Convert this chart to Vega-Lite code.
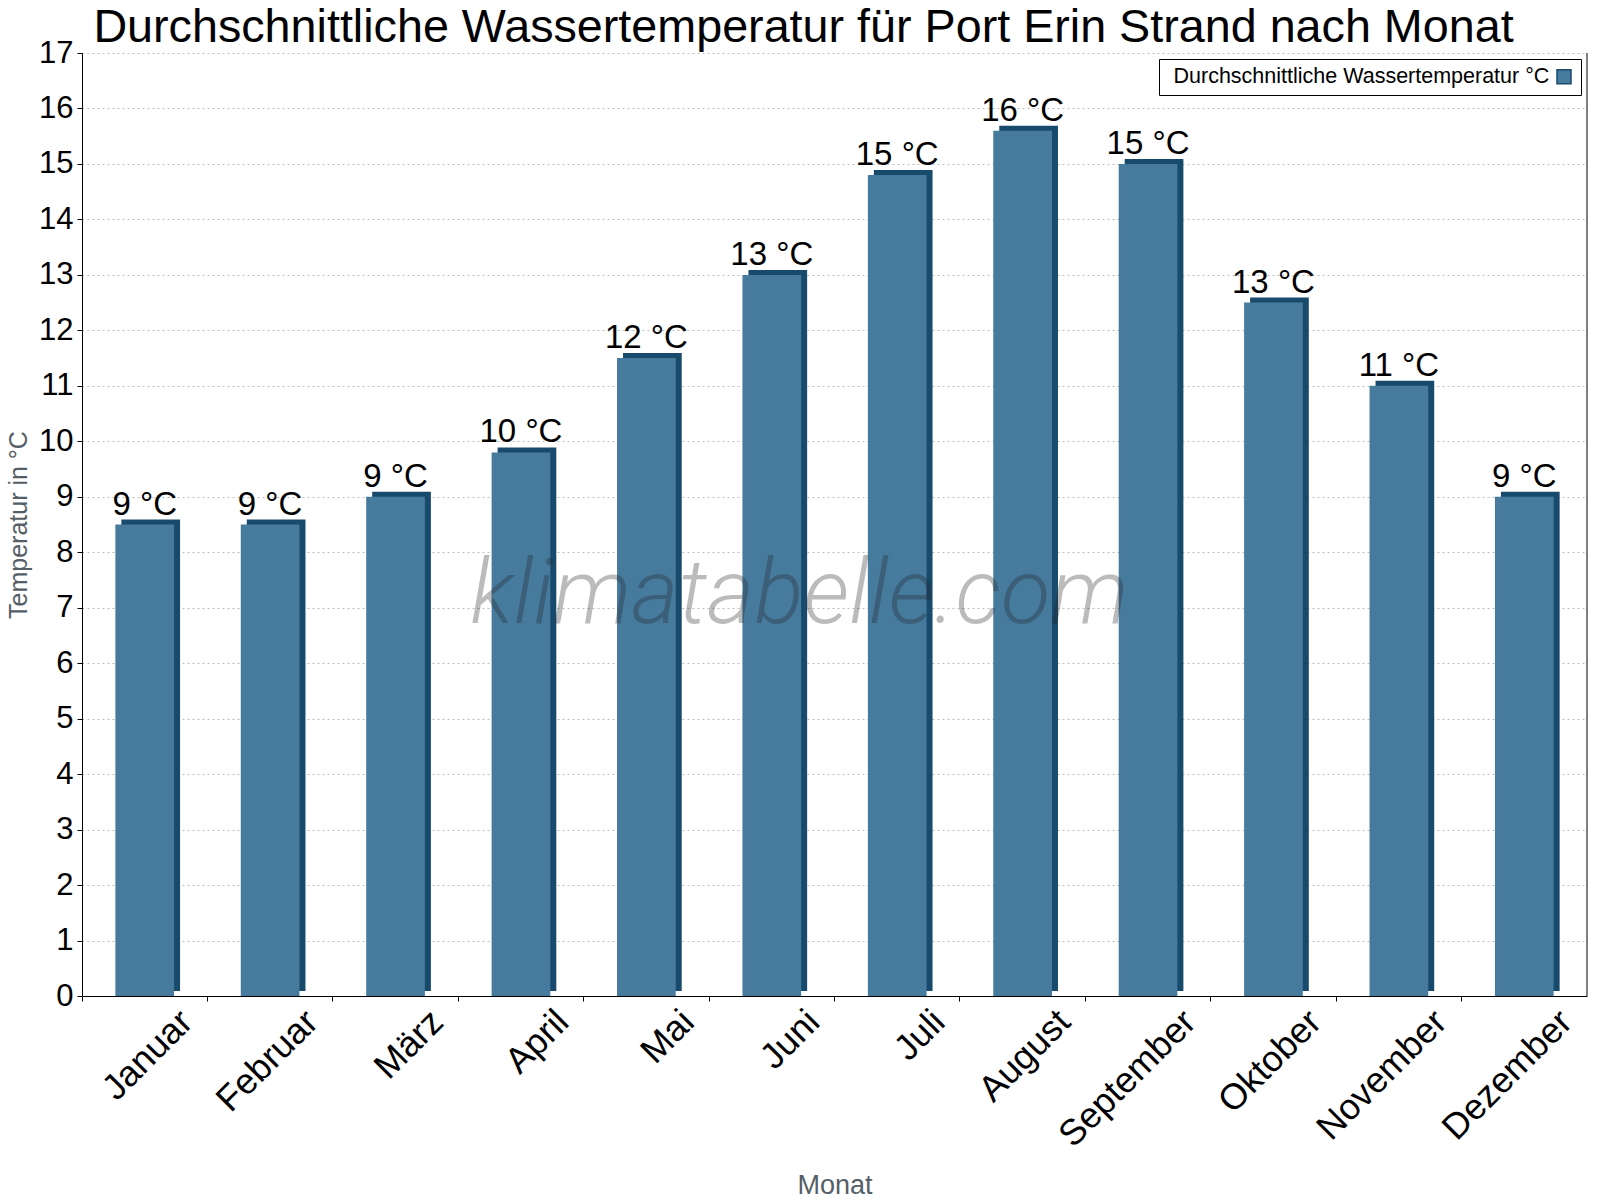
{
  "$schema": "https://vega.github.io/schema/vega-lite/v6.json",
  "width": 1505,
  "height": 943,
  "autosize": "none",
  "padding": {"left": 82, "top": 53, "right": 13, "bottom": 204},
  "background": "white",
  "title": {
    "text": "Durchschnittliche Wassertemperatur für Port Erin Strand nach Monat",
    "font": "Liberation Sans",
    "fontSize": 46.7,
    "fontWeight": "normal",
    "color": "#000000",
    "anchor": "middle",
    "dx": -31,
    "offset": -15
  },
  "data": {
    "values": [
      {"Monat": "Januar", "Temperatur": 8.5, "Label": "9 °C"},
      {"Monat": "Februar", "Temperatur": 8.5, "Label": "9 °C"},
      {"Monat": "März", "Temperatur": 9.0, "Label": "9 °C"},
      {"Monat": "April", "Temperatur": 9.8, "Label": "10 °C"},
      {"Monat": "Mai", "Temperatur": 11.5, "Label": "12 °C"},
      {"Monat": "Juni", "Temperatur": 13.0, "Label": "13 °C"},
      {"Monat": "Juli", "Temperatur": 14.8, "Label": "15 °C"},
      {"Monat": "August", "Temperatur": 15.6, "Label": "16 °C"},
      {"Monat": "September", "Temperatur": 15.0, "Label": "15 °C"},
      {"Monat": "Oktober", "Temperatur": 12.5, "Label": "13 °C"},
      {"Monat": "November", "Temperatur": 11.0, "Label": "11 °C"},
      {"Monat": "Dezember", "Temperatur": 9.0, "Label": "9 °C"}
    ]
  },
  "layer": [
    {
      "mark": {
        "type": "bar",
        "color": "#184A6C",
        "width": {"band": 0.468},
        "xOffset": 6,
        "yOffset": -5,
        "y2Offset": -5
      },
      "encoding": {
        "x": {
          "field": "Monat",
          "type": "nominal",
          "sort": null,
          "scale": {"paddingInner": 0, "paddingOuter": 0},
          "axis": {
            "title": "Monat",
            "titleFont": "Liberation Sans",
            "titleFontSize": 27,
            "titleFontWeight": "normal",
            "titleColor": "#555e66",
            "titleBaseline": "alphabetic",
            "titleY": 197,
            "bandPosition": 0,
            "labelAngle": -45,
            "labelAlign": "right",
            "labelBaseline": "middle",
            "labelFont": "Liberation Sans",
            "labelFontSize": 36,
            "labelColor": "#000000",
            "labelPadding": 15,
            "labelOffset": 42,
            "labelOverlap": false,
            "labelBound": false,
            "labelFlush": false,
            "tickColor": "#000000",
            "tickSize": 5,
            "domainColor": "#000000",
            "grid": false
          }
        },
        "y": {
          "field": "Temperatur",
          "type": "quantitative",
          "scale": {"domain": [0, 17], "nice": false},
          "axis": {
            "title": "Temperatur in °C",
            "titleFont": "Liberation Sans",
            "titleFontSize": 25,
            "titleFontWeight": "normal",
            "titleColor": "#555e66",
            "titleBaseline": "alphabetic",
            "titleX": -56,
            "values": [0, 1, 2, 3, 4, 5, 6, 7, 8, 9, 10, 11, 12, 13, 14, 15, 16, 17],
            "labelFont": "Liberation Sans",
            "labelFontSize": 31,
            "labelColor": "#000000",
            "labelPadding": 4,
            "tickSize": 5,
            "tickColor": "#000000",
            "domainColor": "#000000",
            "grid": true,
            "gridColor": "#bdbdbd",
            "gridDash": [2, 3],
            "gridWidth": 1
          }
        }
      }
    },
    {
      "mark": {"type": "bar", "width": {"band": 0.468}},
      "encoding": {
        "x": {"field": "Monat", "type": "nominal", "sort": null},
        "y": {"field": "Temperatur", "type": "quantitative"},
        "color": {
          "datum": "Durchschnittliche Wassertemperatur °C",
          "type": "nominal",
          "scale": {"range": ["#467B9E"]},
          "legend": {
            "title": null,
            "orient": "top-right",
            "offset": 6,
            "padding": 7,
            "strokeColor": "#000000",
            "fillColor": "#ffffff",
            "cornerRadius": 0,
            "labelFont": "Liberation Sans",
            "labelFontSize": 21.5,
            "labelColor": "#000000",
            "labelLimit": 600,
            "labelOffset": -14,
            "symbolType": "square",
            "symbolSize": 196,
            "symbolOpacity": 1,
            "symbolStrokeColor": "#184A6C",
            "symbolStrokeWidth": 1.5,
            "encode": {
              "symbols": {"update": {"x": {"value": 398}}}
            }
          }
        }
      }
    },
    {
      "mark": {
        "type": "text",
        "baseline": "alphabetic",
        "dy": -10,
        "font": "Liberation Sans",
        "fontSize": 33,
        "color": "#000000"
      },
      "encoding": {
        "x": {"field": "Monat", "type": "nominal", "sort": null},
        "y": {"field": "Temperatur", "type": "quantitative"},
        "text": {"field": "Label"}
      }
    },
    {
      "data": {"values": [{"Monat": "Dezember", "Temperatur": 0, "Oben": 17}]},
      "mark": {"type": "rule", "color": "#000000", "strokeWidth": 1},
      "encoding": {
        "x": {"field": "Monat", "type": "nominal", "sort": null, "bandPosition": 1},
        "y": {"field": "Temperatur", "type": "quantitative"},
        "y2": {"field": "Oben"}
      }
    },
    {
      "data": {"values": [{"Text": "klimatabelle.com", "Monat": "Juni", "Temperatur": 6.72}]},
      "mark": {
        "type": "text",
        "align": "center",
        "baseline": "alphabetic",
        "font": "Roboto",
        "fontStyle": "italic",
        "fontWeight": 300,
        "fontSize": 91,
        "color": "#222222",
        "opacity": 0.3
      },
      "encoding": {
        "x": {"field": "Monat", "type": "nominal", "sort": null, "bandPosition": 0.72},
        "y": {"field": "Temperatur", "type": "quantitative"},
        "text": {"field": "Text"}
      }
    }
  ],
  "config": {"view": {"stroke": null}}
}
